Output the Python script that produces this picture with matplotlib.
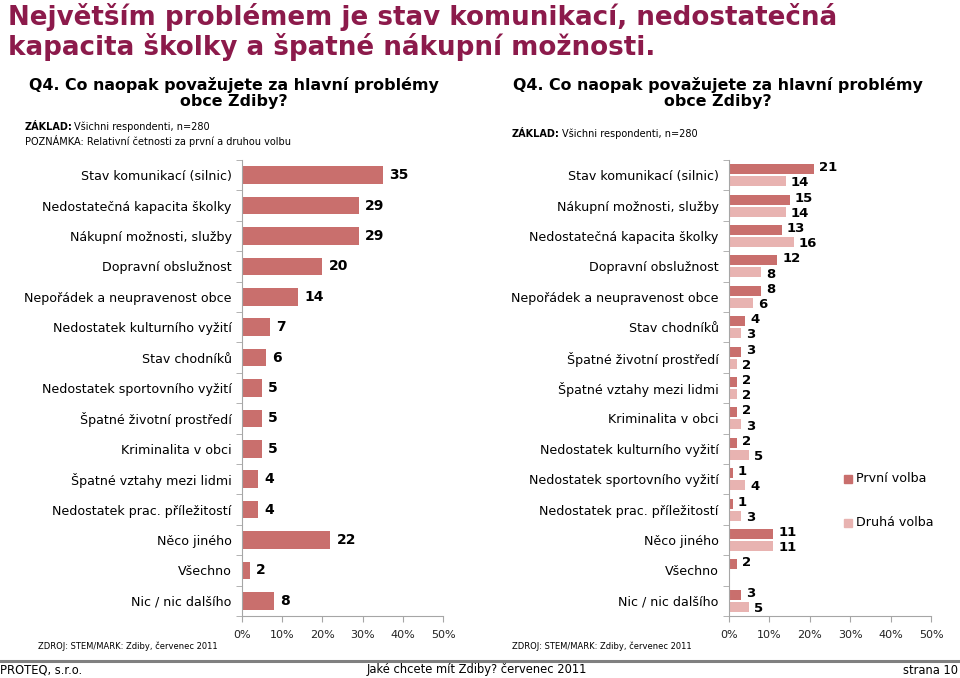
import matplotlib
matplotlib.use("Agg")
import matplotlib.pyplot as plt
import numpy as np

plt.rcParams['font.family'] = ['DejaVu Sans']

# ---- data ----
left_categories = ["Stav komunikací (silnic)", "Nedostatečná kapacita školky",
                   "Nákupní možnosti, služby", "Dopravní obslužnost",
                   "Nepořádek a neupravenost obce", "Nedostatek kulturního vyžití",
                   "Stav chodníků", "Nedostatek sportovního vyžití",
                   "Špatné životní prostředí", "Kriminalita v obci",
                   "Špatné vztahy mezi lidmi", "Nedostatek prac. příležitostí",
                   "Něco jiného", "Všechno", "Nic / nic dalšího"]
left_values = [35, 29, 29, 20, 14, 7, 6, 5, 5, 5, 4, 4, 22, 2, 8]

right_categories = ["Stav komunikací (silnic)", "Nákupní možnosti, služby",
                    "Nedostatečná kapacita školky", "Dopravní obslužnost",
                    "Nepořádek a neupravenost obce", "Stav chodníků",
                    "Špatné životní prostředí", "Špatné vztahy mezi lidmi",
                    "Kriminalita v obci", "Nedostatek kulturního vyžití",
                    "Nedostatek sportovního vyžití", "Nedostatek prac. příležitostí",
                    "Něco jiného", "Všechno", "Nic / nic dalšího"]
first_choice = [21, 15, 13, 12, 8, 4, 3, 2, 2, 2, 1, 1, 11, 2, 3]
second_choice = [14, 14, 16, 8, 6, 3, 2, 2, 3, 5, 4, 3, 11, None, 5]

x_ticks = [0, 10, 20, 30, 40, 50]
x_tick_labels = ["0%", "10%", "20%", "30%", "40%", "50%"]
series_names = ["První volba", "Druhá volba"]

title = "Největším problémem je stav komunikací, nedostatečná\nkapacita školky a špatné nákupní možnosti."
question = "Q4. Co naopak považujete za hlavní problémy\nobce Zdiby?"

C1 = "#C96F6D"
C2 = "#E8B3B1"
TITLE_C = "#8C1A4B"
SPINE_C = "#A6A6A6"

W, H = 960, 678
fig = plt.figure(figsize=(W / 100, H / 100), dpi=100)


def fx(px):
    return px / W


def fy(py):
    return 1 - py / H


def style_axis(ax, cats):
    n = len(cats)
    ax.set_xlim(0, 50)
    ax.set_ylim(n - 0.5, -0.5)
    for s in ["top", "right"]:
        ax.spines[s].set_visible(False)
    for s in ["left", "bottom"]:
        ax.spines[s].set_color(SPINE_C)
        ax.spines[s].set_linewidth(0.8)
    ax.set_yticks(np.arange(n))
    ax.set_yticklabels(cats, fontsize=9.1)
    ax.tick_params(axis="y", which="major", length=0, pad=7.5)
    ax.set_yticks(np.arange(n + 1) - 0.5, minor=True)
    ax.tick_params(axis="y", which="minor", length=4, color=SPINE_C, direction="out")
    ax.set_xticks(x_ticks)
    ax.set_xticklabels(x_tick_labels, fontsize=8.0, color="#222222")
    ax.tick_params(axis="x", length=4, color=SPINE_C, direction="out", pad=6)


# ---- left chart ----
axL = fig.add_axes([fx(242), fy(616), fx(443) - fx(242), fy(160) - fy(616)])
yl = np.arange(len(left_categories))
axL.barh(yl, left_values, height=0.58, color=C1)
for y, v in zip(yl, left_values):
    axL.text(v + 1.5, y, str(v), va="center", ha="left", fontsize=10, fontweight="bold")
style_axis(axL, left_categories)

# ---- right chart ----
axR = fig.add_axes([fx(729), fy(616), fx(931) - fx(729), fy(160) - fy(616)])
yr = np.arange(len(right_categories))
off = 0.2
hb = 0.33
for y, v1, v2 in zip(yr, first_choice, second_choice):
    if v1 is not None:
        axR.barh(y - off, v1, height=hb, color=C1)
        axR.text(v1 + 1.2, y - off - 0.05, str(v1), va="center", ha="left", fontsize=9.5, fontweight="bold")
    if v2 is not None:
        axR.barh(y + off, v2, height=hb, color=C2)
        axR.text(v2 + 1.2, y + off + 0.05, str(v2), va="center", ha="left", fontsize=9.5, fontweight="bold")
style_axis(axR, right_categories)

# legend
for i, (name, col) in enumerate(zip(series_names, [C1, C2])):
    ly = 479 + i * 44
    fig.patches.append(plt.Rectangle((fx(844), fy(ly + 4)), fx(8), 8 / H, color=col,
                                     transform=fig.transFigure, figure=fig))
    fig.text(fx(856), fy(ly), name, fontsize=9.1, va="center", ha="left")

# ---- titles ----
fig.text(fx(8), fy(3), title, fontsize=18.8, fontweight="bold", color=TITLE_C,
         va="top", ha="left", linespacing=1.08)
fig.text(fx(234), fy(77), question, fontsize=11.4, fontweight="bold", va="top",
         ha="center", linespacing=1.05)
fig.text(fx(718), fy(77), question, fontsize=11.4, fontweight="bold", va="top",
         ha="center", linespacing=1.05)

# basis notes
fig.text(fx(25), fy(127), "ZÁKLAD:", fontsize=7.0, fontweight="bold", va="center", ha="left")
fig.text(fx(74), fy(127), "Všichni respondenti, n=280", fontsize=7.0, va="center", ha="left")
fig.text(fx(25), fy(141), "POZNÁMKA: Relativní četnosti za první a druhou volbu", fontsize=7.0,
         va="center", ha="left")
fig.text(fx(512), fy(134), "ZÁKLAD:", fontsize=7.0, fontweight="bold", va="center", ha="left")
fig.text(fx(562), fy(134), "Všichni respondenti, n=280", fontsize=7.0, va="center", ha="left")

# sources
fig.text(fx(38), fy(646), "ZDROJ: STEM/MARK: Zdiby, červenec 2011", fontsize=6.0, va="center", ha="left")
fig.text(fx(512), fy(646), "ZDROJ: STEM/MARK: Zdiby, červenec 2011", fontsize=6.0, va="center", ha="left")

# footer line and texts
fig.add_artist(plt.Line2D([0, 1], [fy(661), fy(661)], color="#808080", lw=2.2,
                          transform=fig.transFigure))
fig.text(fx(0), fy(670), "PROTEQ, s.r.o.", fontsize=8.3, va="center", ha="left")
fig.text(fx(477), fy(670), "Jaké chcete mít Zdiby? červenec 2011", fontsize=8.3, va="center", ha="center")
fig.text(fx(958), fy(670), "strana 10", fontsize=8.3, va="center", ha="right")

fig.savefig("out.png", dpi=100)
